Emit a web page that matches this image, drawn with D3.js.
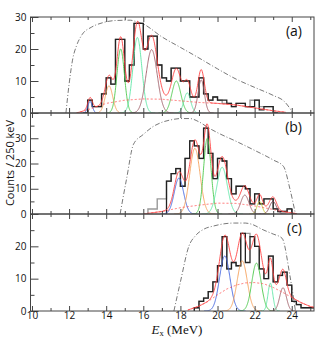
<!DOCTYPE html>
<html>
<head>
<meta charset="utf-8">
<script src="https://cdn.jsdelivr.net/npm/d3@7"></script>
<style>
  body { margin: 0; background: #fff; }
  text { font-family: "Open Sans", sans-serif; fill: #111; }
</style>
</head>
<body>
<script>
// histogram bin width, MeV
const binW = 0.25;

// panel (a)
const histA_start = 12.75;
const histA = [0,4,2,2,6,11,9,23,23,10,15,28,28,20,24,24,15,11,10,14,14,10,10,5,5,11,6,4,5,4,4,3,2,3,3,2,2,4,1,2,2,0];
const grayA_start = 12.75;
const grayA = [0,4,2,2,6,11,9,23,23,10,15,28,28,20,24,24,15,11,10,14,14,10,10,5,5,11,6,4,5,4,3,3,2,3,3,2,4,4,2,2,2,0];
// gaussian components [centre, sigma, amplitude]
const compA = [[13.13,0.12,3.6],[14.15,0.2,8.5],[14.78,0.2,20],[15.68,0.24,23.6],[16.45,0.3,19.8],[17.78,0.24,10],[18.37,0.18,6.3],[19.12,0.17,10.3]];
const colA = ['#3f63e0','#f5a05a','#4cc84c','#5fe6a6','#a0606a','#4cc84c','#5fe6a6','#a0606a'];
const bgA = [[12.4,0],[13,1],[13.5,2],[14,3],[15,4],[16,4.4],[17,4.3],[18,3.8],[19,3.3],[20,3.0],[21,2.5],[22,1.6],[23,0.7],[23.7,0.2]];
const envA = [[11.83,0],[12.0,9],[12.2,17],[12.4,21],[12.7,24.5],[13.2,26.8],[13.8,28.2],[14.5,28.9],[15.3,29],[15.6,28.6],[16.0,27.8],[17.0,23.8],[18.0,20.5],[19.0,17.2],[20.0,13.8],[21.0,10.6],[22.0,8],[23.0,5.5],[23.6,3.6],[24.07,0]];

// panel (b)
const histB_start = 17.25;
const histB = [13,16,18,11,22,29,27,22,34,24,14,22,21,14,8,11,11,10,4,8,4,6,6,2,1,1,2,0];
const grayB_start = 16.25;
const grayB = [2,2,6,6,13,16,18,11,22,29,27,22,34,24,14,22,21,14,8,11,11,10,4,8,4,6,6,2,1,1,2,0];
const compB = [[17.92,0.25,14.2],[18.78,0.28,26],[19.45,0.2,30],[20.25,0.28,18.5],[21.47,0.22,7.5],[22.27,0.14,5],[22.99,0.18,5]];
const colB = ['#3f63e0','#f5a05a','#4cc84c','#5fe6a6','#a0606a','#c8c832','#804050'];
const bgB = [[16.0,0],[17,1],[18,2.5],[19,3.5],[20,4.3],[21,4.2],[22,3.2],[23,1.8],[23.5,1],[24.3,0.1]];
const envB = [[14.75,0],[15.1,14],[15.47,27.6],[16.0,31.5],[16.5,34.5],[17.0,36.3],[17.5,37.3],[18.0,37.8],[18.5,37.8],[19.0,36.5],[19.5,34.2],[20.0,32.2],[21.0,28.8],[22.0,25.2],[23.0,21.4],[23.56,18.8],[23.9,10],[24.2,0]];

// panel (c)
const histC_start = 18.75;
const histC = [1,3,4,6,9,14,23,13,15,14,24,15,23,20,13,10,17,9,11,12,8,3,2,1,1,1,0];
const grayC_start = 18.75;
const grayC = [1,3,4,6,9,14,23,13,15,14,24,24,23,20,13,10,17,9,11,12,8,3,2,1,1,1,0];
const compC = [[20.39,0.28,17],[21.33,0.27,15.5],[22.1,0.25,14.8],[22.85,0.13,8.6],[23.53,0.18,7.2]];
const colC = ['#3f63e0','#f5a05a','#4cc84c','#5fe6a6','#a0606a'];
const bgC = [[18.4,0.3],[19,1.5],[19.5,3],[20,5],[20.5,6.8],[21,8],[21.5,8.7],[22,8.8],[22.5,8.4],[23,7.3],[23.5,5.8],[24,4.2],[24.5,2.6],[25,1.4],[25.3,1]];
const envC = [[17.65,0],[18.0,9],[18.46,20.1],[18.8,23.2],[19.26,25.3],[19.8,26.3],[20.4,27],[20.9,27.2],[21.5,27.2],[21.8,26.9],[22.5,25],[23.0,23.8],[23.48,22.5],[23.9,11],[24.2,0]];

const xTicks = [10,12,14,16,18,20,22,24];
const xMinor = [11,13,15,17,19,21,23,25];

const panels = [
  {name:'a', top:17, bottom:113, ymax:30, labels:[0,10,20,30], minor:[5,15,25], hs:histA_start, h:histA, gs:grayA_start, gh:grayA, comp:compA, col:colA, bg:bgA, env:envA, xlab:false},
  {name:'b', top:113, bottom:214, ymax:40, labels:[0,10,20,30], minor:[5,15,25,35], hs:histB_start, h:histB, gs:grayB_start, gh:grayB, comp:compB, col:colB, bg:bgB, env:envB, xlab:false},
  {name:'c', top:214, bottom:311, ymax:30, labels:[0,10,20], minor:[5,15,25], hs:histC_start, h:histC, gs:grayC_start, gh:grayC, comp:compC, col:colC, bg:bgC, env:envC, xlab:true}
];

const svg = d3.select('body').append('svg')
  .attr('width', 327).attr('height', 347);

const x = d3.scaleLinear([9.92, 25.2], [30.5, 314]);

function stepPts(start, vals) {
  const pts = [[start, 0]];
  vals.forEach((v, i) => pts.push([start + i * binW, v]));
  pts.push([start + vals.length * binW, 0]);
  return pts;
}

function gauss(c, s, a, e) {
  return a * Math.exp(-((e - c) * (e - c)) / (2 * s * s));
}

panels.forEach(p => {
  const y = d3.scaleLinear([0, p.ymax], [p.bottom, p.top]);
  const line = d3.line().x(d => x(d[0])).y(d => y(d[1]));

  svg.append('clipPath').attr('id', 'clip-' + p.name)
    .append('rect')
    .attr('x', 30.5).attr('y', p.top)
    .attr('width', 314 - 30.5).attr('height', p.bottom - p.top);

  const plot = svg.append('g').attr('clip-path', 'url(#clip-' + p.name + ')');

  // acceptance envelope
  plot.append('path')
    .datum(p.env)
    .attr('fill', 'none')
    .attr('stroke', '#555')
    .attr('stroke-width', 0.8)
    .attr('stroke-dasharray', '5,2,1,2')
    .attr('d', line.curve(d3.curveMonotoneX));

  // histograms
  plot.append('path')
    .datum(stepPts(p.gs, p.gh))
    .attr('fill', 'none')
    .attr('stroke', '#9a9a9a')
    .attr('stroke-width', 1.4)
    .attr('d', d3.line().x(d => x(d[0])).y(d => y(d[1])).curve(d3.curveStepAfter));

  plot.append('path')
    .datum(stepPts(p.hs, p.h))
    .attr('fill', 'none')
    .attr('stroke', '#222')
    .attr('stroke-width', 1.3)
    .attr('d', d3.line().x(d => x(d[0])).y(d => y(d[1])).curve(d3.curveStepAfter));

  // gaussian components
  p.comp.forEach((c, i) => {
    const pts = d3.range(c[0] - 4 * c[1], c[0] + 4 * c[1], 0.01).map(e => [e, gauss(c[0], c[1], c[2], e)]);
    plot.append('path')
      .datum(pts)
      .attr('fill', 'none')
      .attr('stroke', p.col[i])
      .attr('stroke-width', 0.9)
      .attr('d', d3.line().x(d => x(d[0])).y(d => y(d[1])));
  });

  // broad background
  const bgFn = d3.scaleLinear(p.bg.map(d => d[0]), p.bg.map(d => d[1])).clamp(true);
  const e0 = p.bg[0][0], e1 = p.bg[p.bg.length - 1][0];
  const bgPts = d3.range(e0, e1, 0.02).map(e => [e, bgFn(e)]);
  plot.append('path')
    .datum(bgPts)
    .attr('fill', 'none')
    .attr('stroke', '#ff5a5a')
    .attr('stroke-width', 0.9)
    .attr('stroke-dasharray', '2,2')
    .attr('d', d3.line().x(d => x(d[0])).y(d => y(d[1])).curve(d3.curveBasis));

  // total fit
  const totPts = bgPts.map(d => [d[0], d[1] + d3.sum(p.comp, c => gauss(c[0], c[1], c[2], d[0]))]);
  plot.append('path')
    .datum(totPts)
    .attr('fill', 'none')
    .attr('stroke', '#ff3b3b')
    .attr('stroke-opacity', 0.85)
    .attr('stroke-width', 1)
    .attr('d', d3.line().x(d => x(d[0])).y(d => y(d[1])));

  // axes
  const ax = svg.append('g').attr('class', 'axes');
  ax.append('g')
    .attr('transform', 'translate(30.5,0)')
    .call(d3.axisLeft(y).tickValues(p.labels).tickSize(-8).tickPadding(4).tickFormat(d3.format('d')));
  ax.append('g')
    .attr('transform', 'translate(30.5,0)')
    .call(d3.axisLeft(y).tickValues(p.minor).tickSize(-4).tickFormat(''));
  ax.append('g')
    .attr('transform', 'translate(0,' + p.bottom + ')')
    .call(d3.axisBottom(x).tickValues(xTicks).tickSize(-5).tickPadding(1).tickFormat(p.xlab ? d3.format('d') : ''));
  ax.append('g')
    .attr('transform', 'translate(0,' + p.bottom + ')')
    .call(d3.axisBottom(x).tickValues(xMinor.filter(v => v < 25.2)).tickSize(-3).tickFormat(''));
  ax.append('g')
    .attr('transform', 'translate(0,' + p.top + ')')
    .call(d3.axisTop(x).tickValues(xTicks).tickSize(-5).tickFormat(''));
  ax.append('g')
    .attr('transform', 'translate(0,' + p.top + ')')
    .call(d3.axisTop(x).tickValues(xMinor.filter(v => v < 25.2)).tickSize(-3).tickFormat(''));

  ax.selectAll('.domain').remove();
  ax.selectAll('.tick line').attr('stroke', '#444');
  ax.selectAll('.tick text')
    .attr('font-family', '"Open Sans", sans-serif')
    .attr('font-size', 10)
    .attr('fill', '#000');

  svg.append('rect')
    .attr('x', 30.5).attr('y', p.top)
    .attr('width', 314 - 30.5).attr('height', p.bottom - p.top)
    .attr('fill', 'none')
    .attr('stroke', '#444')
    .attr('stroke-width', 1);

  svg.append('text')
    .attr('x', 302).attr('y', p.top + 19)
    .attr('text-anchor', 'end')
    .attr('font-size', 14)
    .attr('fill', '#000')
    .text('(' + p.name + ')');
});

// axis titles
svg.append('text')
  .attr('transform', 'translate(13.5,163) rotate(-90)')
  .attr('text-anchor', 'middle')
  .attr('font-size', 11)
  .attr('fill', '#000')
  .text('Counts / 250 keV');

const xt = svg.append('text')
  .attr('x', 177).attr('y', 334)
  .attr('text-anchor', 'middle')
  .attr('font-family', '"Liberation Serif", serif')
  .attr('font-size', 13)
  .attr('fill', '#000');
xt.append('tspan').attr('font-style', 'italic').attr('font-family', '"Liberation Serif", serif').text('E');
xt.append('tspan').attr('font-size', 8.5).attr('dy', 2).attr('font-family', '"Liberation Serif", serif').text('x');
xt.append('tspan').attr('dy', -2).attr('font-family', '"Liberation Serif", serif').text(' (MeV)');
</script>
</body>
</html>
